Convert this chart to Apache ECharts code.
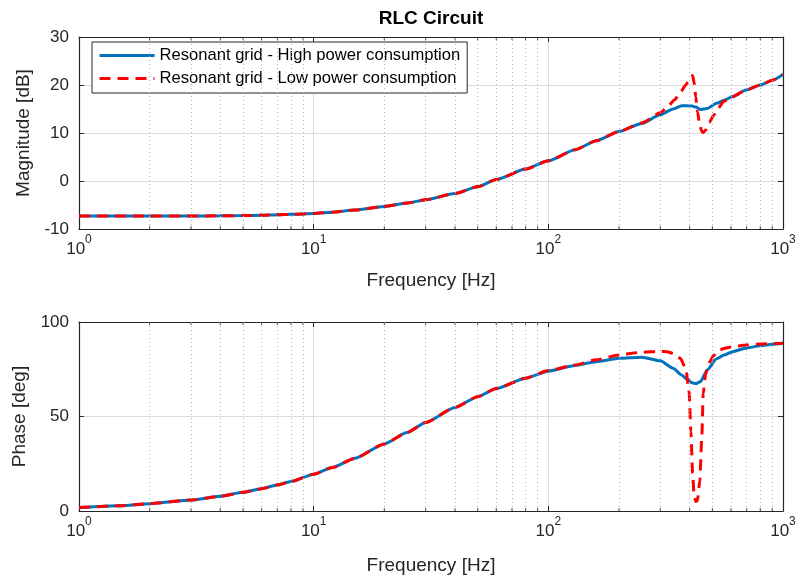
<!DOCTYPE html>
<html>
<head>
<meta charset="utf-8">
<script src="https://cdn.jsdelivr.net/npm/echarts@6/dist/echarts.min.js"></script>
<style>
  html, body { margin: 0; padding: 0; background: #ffffff; }
  #chart { width: 803px; height: 579px; }
</style>
</head>
<body>
<div id="chart"></div>
<script>
// Frequency response of the RLC grid impedance (Bode plot)

// High power consumption case
const freqHigh = [1, 1.5, 2, 3, 4, 5, 6, 7, 8, 10, 12, 15, 20, 25, 30, 40, 50, 60, 80, 100,
  130, 160, 200, 250, 300, 340, 370, 390, 410, 425, 445, 475, 521, 560, 610, 700, 800, 900, 1000];
const magHigh = [-7.3, -7.3, -7.3, -7.3, -7.25, -7.2, -7.15, -7.05, -6.95, -6.75, -6.5, -6.05, -5.3, -4.6, -3.9, -2.6, -1.2, 0.3, 2.5, 4.2,
  6.5, 8.4, 10.3, 12.0, 13.8, 15.0, 15.7, 15.7, 15.6, 15.4, 14.9, 15.1, 16.2, 16.8, 17.6, 19.0, 20.0, 21.0, 22.2];
const phaseHigh = [1.8, 2.8, 3.9, 5.8, 7.8, 9.9, 11.8, 13.8, 15.6, 19.5, 23.0, 27.9, 35.5, 41.5, 46.8, 54.8, 60.5, 64.8, 70.3, 74.0,
  77.0, 79.0, 80.8, 81.4, 79.5, 75.5, 72.0, 69.7, 67.8, 67.4, 68.5, 74.6, 80.5, 82.5, 84.3, 86.3, 87.4, 88.2, 88.7];

// Low power consumption case
const freqLow = [1, 1.5, 2, 3, 4, 5, 6, 7, 8, 10, 12, 15, 20, 25, 30, 40, 50, 60, 80, 100,
  130, 160, 200, 250, 300, 320, 345, 365, 385, 398, 405, 412, 418, 425, 432, 442, 451, 457, 468, 485,
  505, 530, 560, 600, 700, 800, 900, 1000];
const magLow = [-7.3, -7.3, -7.3, -7.3, -7.25, -7.2, -7.15, -7.05, -6.95, -6.75, -6.5, -6.05, -5.3, -4.6, -3.9, -2.6, -1.2, 0.3, 2.5, 4.2,
  6.5, 8.4, 10.3, 12.1, 14.2, 15.3, 16.9, 18.4, 20.0, 21.0, 21.6, 22.0, 20.5, 17.5, 14.5, 11.6, 10.3, 10.1, 10.6, 12.2,
  13.6, 15.2, 16.6, 17.4, 19.0, 20.0, 21.0, 22.2];
const phaseLow = [1.8, 2.8, 3.9, 5.8, 7.8, 9.9, 11.8, 13.8, 15.6, 19.5, 23.0, 27.9, 35.5, 41.5, 46.8, 54.8, 60.5, 64.8, 70.3, 74.3,
  77.3, 80.0, 82.6, 84.0, 84.4, 84.3, 83.2, 80.8, 75.5, 63.0, 42.0, 20.0, 8.0, 5.0, 5.5, 16.0, 40.0, 62.0, 72.5, 78.5,
  82.0, 84.8, 86.0, 86.8, 87.8, 88.3, 88.6, 88.7];

// Axis settings
const freqRange = [1, 1000];
const minorFreqs = [2, 3, 4, 5, 6, 7, 8, 9, 20, 30, 40, 50, 60, 70, 80, 90, 200, 300, 400, 500, 600, 700, 800, 900];
const magTicks = [-10, 0, 10, 20, 30];
const phaseTicks = [0, 50, 100];
const seriesNames = ['Resonant grid - High power consumption', 'Resonant grid - Low power consumption'];
const titleText = 'RLC Circuit';
const xAxisTitle = 'Frequency [Hz]';
const magTitle = 'Magnitude [dB]';
const phaseTitle = 'Phase [deg]';

const FONT = '"Liberation Sans", Arial, Helvetica, sans-serif';
const AX = '#262626';
const BLUE = '#0072BD';
const RED = '#FF0000';

const zip = (xs, ys) => xs.map((x, i) => [x, ys[i]]);

const grids = [
  { left: 79, top: 37, width: 704, height: 192 },
  { left: 79, top: 322, width: 704, height: 189 }
];
const freqNameGap = [42, 45];

function freqAxis(gi, pos) {
  const main = pos === 'bottom';
  return {
    type: 'log', logBase: 10, gridIndex: gi, position: pos,
    min: freqRange[0], max: freqRange[1],
    axisLine: { show: true, onZero: false, lineStyle: { color: AX, width: 1.2 } },
    axisTick: { show: true, inside: true, length: 5, lineStyle: { color: AX, width: 1 } },
    axisLabel: main ? {
      show: true, margin: 5,
      formatter: v => '{b|10}{s|' + Math.round(Math.log10(v)) + '}',
      rich: {
        b: { fontSize: 17, color: AX, fontFamily: FONT, lineHeight: 24, verticalAlign: 'bottom' },
        s: { fontSize: 12, color: AX, fontFamily: FONT, lineHeight: 13, verticalAlign: 'top' }
      }
    } : { show: false },
    splitLine: { show: main, lineStyle: { color: '#dcdcdc', width: 1 } },
    name: main ? xAxisTitle : '', nameLocation: 'middle', nameGap: freqNameGap[gi],
    nameTextStyle: { fontSize: 19, color: AX, fontFamily: FONT }
  };
}

function valAxis(gi, pos, ticks, title) {
  const main = pos === 'left';
  return {
    type: 'value', gridIndex: gi, position: pos,
    min: ticks[0], max: ticks[ticks.length - 1], interval: ticks[1] - ticks[0],
    axisLine: { show: true, onZero: false, lineStyle: { color: AX, width: 1.2 } },
    axisTick: { show: true, inside: true, length: 5, lineStyle: { color: AX, width: 1 } },
    axisLabel: { show: main, fontSize: 17, color: AX, fontFamily: FONT, margin: 10 },
    splitLine: { show: main, lineStyle: { color: '#dcdcdc', width: 1 } },
    name: main ? title : '', nameLocation: 'middle', nameGap: 42, nameRotate: 90,
    nameTextStyle: { fontSize: 19, color: AX, fontFamily: FONT }
  };
}

// dotted minor grid lines at 2..9 of each decade
function minorGrid(gi) {
  return {
    type: 'line', xAxisIndex: gi * 2, yAxisIndex: gi * 2, data: [], silent: true, z: 1,
    markLine: {
      silent: true, symbol: ['none', 'none'], label: { show: false }, animation: false,
      lineStyle: { type: [1, 3], color: '#b0b0b0', width: 1 },
      emphasis: { disabled: true },
      data: minorFreqs.map(f => ({ xAxis: f }))
    }
  };
}

// short inward minor ticks along the top and bottom edges
function minorTicks(gi, ticks) {
  const lo = ticks[0], hi = ticks[ticks.length - 1];
  return [
    { type: 'scatter', xAxisIndex: gi * 2, yAxisIndex: gi * 2, silent: true, z: 6,
      symbol: 'rect', symbolSize: [1, 3], symbolOffset: [0, -1.5],
      itemStyle: { color: AX }, data: minorFreqs.map(f => [f, lo]) },
    { type: 'scatter', xAxisIndex: gi * 2, yAxisIndex: gi * 2, silent: true, z: 6,
      symbol: 'rect', symbolSize: [1, 3], symbolOffset: [0, 1.5],
      itemStyle: { color: AX }, data: minorFreqs.map(f => [f, hi]) }
  ];
}

function curve(name, gi, data, color, dashed) {
  return {
    name, type: 'line', xAxisIndex: gi * 2, yAxisIndex: gi * 2,
    data, symbol: 'none', showSymbol: false, smooth: 0.2, smoothMonotone: 'x',
    z: dashed ? 4 : 3,
    lineStyle: { color, width: 3, type: dashed ? [11, 7] : 'solid' },
    itemStyle: { color },
    emphasis: { disabled: true }
  };
}

const option = {
  animation: false,
  backgroundColor: '#ffffff',
  textStyle: { fontFamily: FONT },
  grid: grids,
  xAxis: [freqAxis(0, 'bottom'), freqAxis(0, 'top'), freqAxis(1, 'bottom'), freqAxis(1, 'top')],
  yAxis: [
    valAxis(0, 'left', magTicks, magTitle), valAxis(0, 'right', magTicks, ''),
    valAxis(1, 'left', phaseTicks, phaseTitle), valAxis(1, 'right', phaseTicks, '')
  ],
  legend: {
    left: 92, top: 42, orient: 'vertical',
    itemWidth: 55, itemHeight: 14, itemGap: 6,
    padding: [5, 7, 6, 6],
    borderColor: AX, borderWidth: 1, backgroundColor: '#ffffff',
    itemStyle: { opacity: 0 },
    lineStyle: { width: 3 },
    textStyle: { fontSize: 16.6, color: '#000000', fontFamily: FONT },
    data: seriesNames
  },
  graphic: [{
    type: 'text', x: 431, y: 19,
    style: { text: titleText, fontSize: 19, fontWeight: 'bold', fill: '#000000',
      fontFamily: FONT, textAlign: 'center', textVerticalAlign: 'middle' }
  }],
  series: [
    minorGrid(0), minorGrid(1),
    ...minorTicks(0, magTicks), ...minorTicks(1, phaseTicks),
    curve(seriesNames[0], 0, zip(freqHigh, magHigh), BLUE, false),
    curve(seriesNames[1], 0, zip(freqLow, magLow), RED, true),
    curve(seriesNames[0], 1, zip(freqHigh, phaseHigh), BLUE, false),
    curve(seriesNames[1], 1, zip(freqLow, phaseLow), RED, true)
  ]
};

const chart = echarts.init(document.getElementById('chart'), null, { renderer: 'canvas' });
chart.setOption(option);
</script>
</body>
</html>
